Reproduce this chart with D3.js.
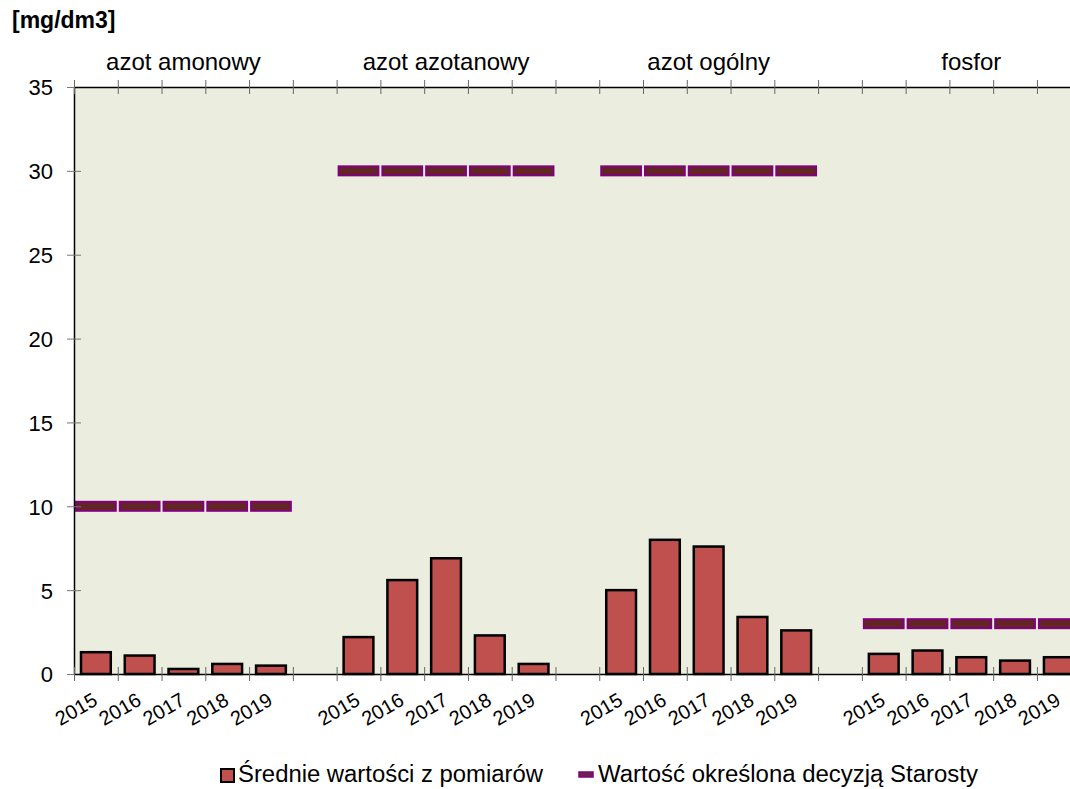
<!DOCTYPE html>
<html>
<head>
<meta charset="utf-8">
<script src="https://cdn.jsdelivr.net/npm/d3@7"></script>
<style>
  body { margin: 0; background: #fff; }
  text { font-family: "Liberation Sans", Arial, sans-serif; fill: #000; }
</style>
</head>
<body>
<svg id="chart" width="1070" height="789"></svg>
<script>
// data
var groups = ["azot amonowy", "azot azotanowy", "azot ogólny", "fosfor"];
var years = ["2015", "2016", "2017", "2018", "2019"];
var means = [
  [1.3, 1.1, 0.3, 0.6, 0.5],
  [2.2, 5.6, 6.9, 2.3, 0.6],
  [5.0, 8.0, 7.6, 3.4, 2.6],
  [1.2, 1.4, 1.0, 0.8, 1.0]
];
var limits = [10, 30, 30, 3];
var yTicks = [0, 5, 10, 15, 20, 25, 30, 35];
var unitLabel = "[mg/dm3]";
var legendLabels = ["Średnie wartości z pomiarów", "Wartość określona decyzją Starosty"];

var svg = d3.select("#chart");
var plotLeft = 74, plotTop = 87, plotBottom = 674, step = 43.77;

// one slot per year, plus an empty slot between groups
var slots = [];
groups.forEach(function (g, gi) {
  years.forEach(function (yr) { slots.push(gi + "-" + yr); });
  if (gi < groups.length - 1) slots.push(gi + "-gap");
});

var x = d3.scaleBand().domain(slots).range([plotLeft, plotLeft + slots.length * step]).padding(0);
var y = d3.scaleLinear().domain([0, 35]).range([plotBottom, plotTop]);
var xi = d3.scaleLinear().domain([0, slots.length]).range([plotLeft, plotLeft + slots.length * step]);

var rows = [];
groups.forEach(function (g, gi) {
  years.forEach(function (yr, yi) {
    rows.push({ key: gi + "-" + yr, year: yr, value: means[gi][yi], limit: limits[gi] });
  });
});

// plot background
svg.append("rect")
  .attr("x", plotLeft).attr("y", plotTop)
  .attr("width", xi(slots.length) - plotLeft).attr("height", plotBottom - plotTop)
  .style("fill", "#ebeddf");

// limit markers
svg.selectAll(".limit")
  .data(rows)
  .enter().append("rect")
  .attr("class", "limit")
  .attr("x", function (d) { return x(d.key) + 2; })
  .attr("y", function (d) { return y(d.limit) - 4.5; })
  .attr("width", x.bandwidth() - 4)
  .attr("height", 9)
  .style("fill", "#632523")
  .style("stroke", "#800080")
  .style("stroke-width", 2);

// bars
var bw = x.bandwidth() * 0.68;
svg.selectAll(".bar")
  .data(rows)
  .enter().append("rect")
  .attr("class", "bar")
  .attr("x", function (d) { return x(d.key) + (x.bandwidth() - bw) / 2; })
  .attr("y", function (d) { return y(d.value); })
  .attr("width", bw)
  .attr("height", function (d) { return plotBottom - y(d.value); })
  .style("fill", "#c0504d")
  .style("stroke", "#000")
  .style("stroke-width", 2.5);

// y axis
var yAxis = svg.append("g")
  .attr("transform", "translate(" + plotLeft + ",0)")
  .call(d3.axisLeft(y).tickValues(yTicks).tickSizeInner(7).tickSizeOuter(0).tickPadding(14));
yAxis.select(".domain").style("stroke", "#000").style("stroke-width", 1.5);
yAxis.selectAll(".tick line").attr("x1", -7).attr("x2", 7).style("stroke", "#777");
yAxis.selectAll(".tick text")
  .style("font-size", "22px")
  .style("font-family", "'Liberation Sans', Arial, sans-serif")
  .attr("dy", "0.36em");

// bottom and top category axes
var idx = d3.range(slots.length + 1);
[plotBottom, plotTop].forEach(function (yy) {
  var ax = svg.append("g")
    .attr("transform", "translate(0," + yy + ")")
    .call(d3.axisBottom(xi).tickValues(idx).tickFormat("").tickSizeOuter(0));
  ax.select(".domain").style("stroke", "#000").style("stroke-width", 1.5);
  ax.selectAll(".tick line").attr("y1", -7).attr("y2", 7).style("stroke", "#666");
});

// year labels
svg.selectAll(".year")
  .data(rows)
  .enter().append("text")
  .attr("class", "year")
  .attr("text-anchor", "end")
  .attr("transform", function (d) {
    return "translate(" + (x(d.key) + x.bandwidth() / 2 + 3) + ",704) rotate(-30)";
  })
  .style("font-size", "20px")
  .text(function (d) { return d.year; });

// group titles
svg.selectAll(".group")
  .data(groups)
  .enter().append("text")
  .attr("class", "group")
  .attr("text-anchor", "middle")
  .attr("x", function (d, i) { return (x(i + "-2015") + x(i + "-2019") + x.bandwidth()) / 2; })
  .attr("y", 70)
  .style("font-size", "24px")
  .text(function (d) { return d; });

// unit
svg.append("text")
  .attr("x", 12).attr("y", 28)
  .style("font-size", "23px")
  .style("font-weight", "bold")
  .text(unitLabel);

// legend
svg.append("rect")
  .attr("x", 221).attr("y", 769).attr("width", 13).attr("height", 13)
  .style("fill", "#c0504d").style("stroke", "#000").style("stroke-width", 2);
svg.append("text")
  .attr("x", 238).attr("y", 782)
  .attr("textLength", 305).attr("lengthAdjust", "spacingAndGlyphs")
  .style("font-size", "23.5px")
  .text(legendLabels[0]);
svg.append("rect")
  .attr("x", 579).attr("y", 772).attr("width", 14).attr("height", 5)
  .style("fill", "#6e1f4a").style("stroke", "#800080").style("stroke-width", 1.5);
svg.append("text")
  .attr("x", 598).attr("y", 782)
  .attr("textLength", 380).attr("lengthAdjust", "spacingAndGlyphs")
  .style("font-size", "23.5px")
  .text(legendLabels[1]);
</script>
</body>
</html>
